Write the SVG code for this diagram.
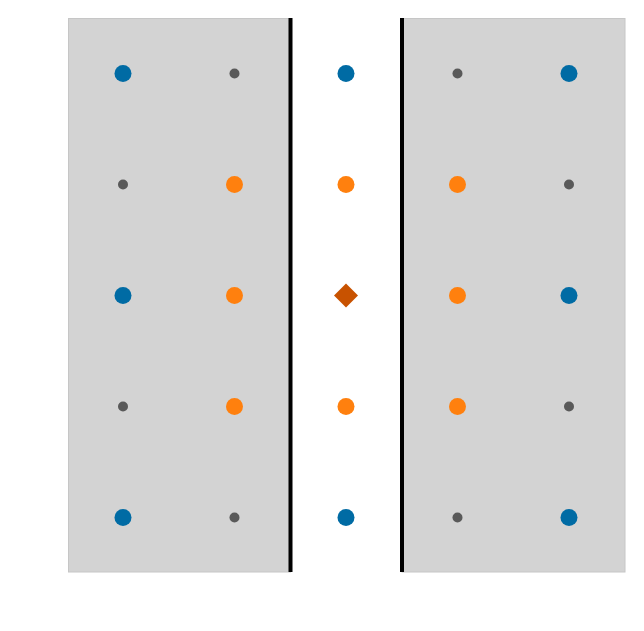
<svg xmlns="http://www.w3.org/2000/svg" width="644" height="631" viewBox="0 0 644 631">
<style>
.panel{fill:#d3d3d3;stroke:#c6c6c6;stroke-width:1}
.wall{stroke:#000;stroke-width:4}
.b{fill:#006BA4}
.o{fill:#FF800E}
.g{fill:#595959}
.d{fill:#C85200}
</style>
<rect width="644" height="631" fill="#fff"/>
<rect class="panel" x="68.5" y="18.5" width="222" height="553.5"/>
<rect class="panel" x="402" y="18.5" width="223" height="553.5"/>
<g id="walls">
<line class="wall" x1="290.5" y1="18" x2="290.5" y2="572"/>
<line class="wall" x1="402" y1="18" x2="402" y2="572"/>
</g>
<g id="row0">
<circle class="b" cx="123" cy="73.5" r="8.5"/>
<circle class="g" cx="234.5" cy="73.5" r="5"/>
<circle class="b" cx="346" cy="73.5" r="8.5"/>
<circle class="g" cx="457.5" cy="73.5" r="5"/>
<circle class="b" cx="569" cy="73.5" r="8.5"/>
</g>
<g id="row1">
<circle class="g" cx="123" cy="184.5" r="5"/>
<circle class="o" cx="234.5" cy="184.5" r="8.5"/>
<circle class="o" cx="346" cy="184.5" r="8.5"/>
<circle class="o" cx="457.5" cy="184.5" r="8.5"/>
<circle class="g" cx="569" cy="184.5" r="5"/>
</g>
<g id="row2">
<circle class="b" cx="123" cy="295.5" r="8.5"/>
<circle class="o" cx="234.5" cy="295.5" r="8.5"/>
<polygon id="center" class="d" points="346,283.5 358,295.5 346,307.5 334,295.5"/>
<circle class="o" cx="457.5" cy="295.5" r="8.5"/>
<circle class="b" cx="569" cy="295.5" r="8.5"/>
</g>
<g id="row3">
<circle class="g" cx="123" cy="406.5" r="5"/>
<circle class="o" cx="234.5" cy="406.5" r="8.5"/>
<circle class="o" cx="346" cy="406.5" r="8.5"/>
<circle class="o" cx="457.5" cy="406.5" r="8.5"/>
<circle class="g" cx="569" cy="406.5" r="5"/>
</g>
<g id="row4">
<circle class="b" cx="123" cy="517.5" r="8.5"/>
<circle class="g" cx="234.5" cy="517.5" r="5"/>
<circle class="b" cx="346" cy="517.5" r="8.5"/>
<circle class="g" cx="457.5" cy="517.5" r="5"/>
<circle class="b" cx="569" cy="517.5" r="8.5"/>
</g>
</svg>
